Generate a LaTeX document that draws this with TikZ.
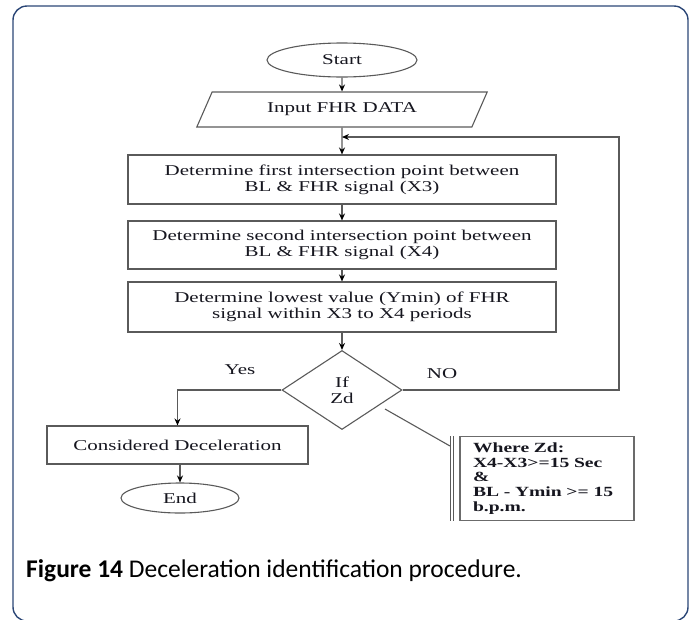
\documentclass[tikz,border=0pt]{standalone}
\usepackage{fontspec}
\usetikzlibrary{shapes.geometric,arrows.meta,calc}
\newfontfamily\flowfont[FakeStretch=1.4]{Liberation Serif}
\newfontfamily\capfont{Carlito}
\definecolor{framecol}{HTML}{2B4676}
\definecolor{linecol}{HTML}{5A5A5A}
\definecolor{inkcol}{HTML}{16161F}
\begin{document}
\begin{tikzpicture}[x=1pt,y=-1pt,
  flow/.style={draw=linecol, line width=1.1pt, text=inkcol,
    font=\flowfont\fontsize{15}{16}\selectfont, align=center, inner sep=0pt},
  terminal/.style={flow, ellipse},
  iobox/.style={flow, trapezium, trapezium left angle=56, trapezium right angle=124,
    trapezium stretches=true, minimum width=291pt, minimum height=35pt},
  procbox/.style={flow, rectangle, minimum width=428pt},
  decision/.style={flow, diamond, minimum width=120pt, minimum height=79pt},
  notebox/.style={flow, rectangle, line width=1.8pt, draw=linecol!90,
    minimum width=174pt, minimum height=84pt, align=left, text width=148pt,
    inner xsep=13pt, font=\flowfont\bfseries\fontsize{14}{14.8}\selectfont},
  conn/.style={draw=linecol, line width=1.1pt, -{Stealth[length=7pt,width=6pt,color=black]}},
  plain/.style={draw=linecol, line width=1.1pt},
  lbl/.style={text=inkcol, font=\flowfont\fontsize{15}{16}\selectfont, inner sep=0pt},
]
\useasboundingbox (0,0) rectangle (690,619);

% outer frame of the figure
\draw[framecol, line width=1.4pt, rounded corners=14pt] (13,6) rectangle (688,621);

% flowchart nodes
\node[terminal, minimum width=150pt, minimum height=34pt] (start) at (342,60) {Start};
\node[iobox] (input) at (342,109.5) {Input FHR DATA};
\node[procbox, minimum height=49pt] (b1) at (342,179.5)
  {Determine first intersection point between\\BL \& FHR signal (X3)};
\node[procbox, minimum height=48pt] (b2) at (342,245)
  {Determine second intersection point between\\BL \& FHR signal (X4)};
\node[procbox, minimum height=50pt] (b3) at (342,307)
  {Determine lowest value (Ymin) of FHR\\signal within X3 to X4 periods};
\node[decision] (dec) at (342,390) {If\\Zd};
\node[flow, rectangle, minimum width=261pt, minimum height=38pt] (cons) at (177.5,445)
  {Considered Deceleration};
\node[terminal, minimum width=118pt, minimum height=30pt] (endn) at (180,498) {End};
\node[notebox] (where) at (547,478.5)
  {Where Zd:\\X4-X3>=15 Sec\\\&\\BL - Ymin >= 15\\b.p.m.};

% branch labels
\node[lbl] (yes) at (240,370) {Yes};
\node[lbl] (no) at (442,374) {NO};

% main flow
\draw[conn] (start) -- (input);
\draw[conn] (input) -- (b1);
\draw[conn] (b1) -- (b2);
\draw[conn] (b2) -- (b3);
\draw[conn] (b3) -- (dec);
\draw[conn] (dec.west) -| (cons.north);
\draw[conn] (endn.north |- cons.south) -- (endn.north);

% loop back when the condition fails
\coordinate (loopin) at (342,137);
\coordinate (loopcorner) at (619,137);
\draw[conn] (dec.east) -| (loopcorner) -- (loopin);

% annotation bracket for the condition
\coordinate (annA) at (385,409);
\coordinate (annB) at (450,446);
\coordinate (barTl) at (450,436);
\coordinate (barBl) at (450,521);
\coordinate (barTr) at (453,436);
\coordinate (barBr) at (453,521);
\draw[plain] (annA) -- (annB);
\draw[plain, line width=0.9pt] (barTl) -- (barBl);
\draw[plain, line width=0.9pt] (barTr) -- (barBr);

% caption
\node[anchor=base west, inner sep=0pt, text=black,
  font=\capfont\fontsize{25.5}{30}\selectfont] (cap) at (26,577)
  {\textbf{Figure 14} Deceleration identification procedure.};
\end{tikzpicture}
\end{document}
